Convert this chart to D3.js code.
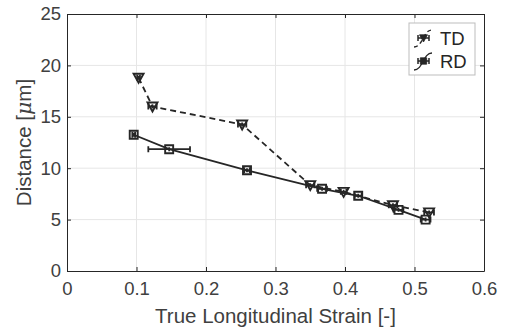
<!DOCTYPE html>
<html>
<head>
<meta charset="utf-8">
<script src="https://cdn.jsdelivr.net/npm/d3@7"></script>
<style>
  body { margin: 0; background: #fff; }
  text { font-family: "Liberation Sans", Arial, sans-serif; }
</style>
</head>
<body>
<div id="chart"></div>
<script>
// dữ liệu
const tdStrain = [0.103, 0.123, 0.252, 0.350, 0.398, 0.469, 0.521];
const tdDist   = [18.8, 16.0, 14.25, 8.35, 7.7, 6.4, 5.7];
const tdErr    = [0.002, 0.006, 0.006, 0.006, 0.004, 0.006, 0.007];

const rdStrain = [0.096, 0.147, 0.259, 0.367, 0.419, 0.477, 0.516];
const rdDist   = [13.25, 11.85, 9.8, 8.0, 7.32, 5.95, 5.0];
const rdErr    = [0.002, 0.030, 0.004, 0.007, 0.005, 0.007, 0.007];

const xTicks = [0, 0.1, 0.2, 0.3, 0.4, 0.5, 0.6];
const yTicks = [0, 5, 10, 15, 20, 25];

const margin = { top: 14, right: 22, bottom: 60, left: 67 },
    width = 506 - margin.left - margin.right,
    height = 331 - margin.top - margin.bottom;

const ink = "#262626";

const svg = d3.select("#chart")
    .append("svg")
    .attr("width", 506)
    .attr("height", 331)
    .append("g")
    .attr("transform", `translate(${margin.left},${margin.top})`);

const x = d3.scaleLinear().domain([0, 0.6]).range([0, width]);
const y = d3.scaleLinear().domain([0, 25]).range([height, 0]);

// lưới
svg.append("g").selectAll("line")
    .data(xTicks.slice(1, -1))
    .enter().append("line")
    .attr("x1", d => x(d)).attr("x2", d => x(d))
    .attr("y1", 0).attr("y2", height)
    .attr("stroke", "#e6e6e6");
svg.append("g").selectAll("line")
    .data(yTicks.slice(1, -1))
    .enter().append("line")
    .attr("y1", d => y(d)).attr("y2", d => y(d))
    .attr("x1", 0).attr("x2", width)
    .attr("stroke", "#e6e6e6");

// trục
svg.append("g")
    .attr("transform", `translate(0,${height})`)
    .call(d3.axisBottom(x).tickValues(xTicks).tickSizeInner(-4).tickSizeOuter(0).tickPadding(11)
        .tickFormat(d => d === 0 ? "0" : d3.format(".1f")(d)));
svg.append("g")
    .call(d3.axisLeft(y).tickValues(yTicks).tickSizeInner(-4).tickSizeOuter(0).tickPadding(6));
svg.append("g")
    .call(d3.axisTop(x).tickValues(xTicks).tickSizeInner(-4).tickSizeOuter(0).tickFormat(""));
svg.append("g")
    .attr("transform", `translate(${width},0)`)
    .call(d3.axisRight(y).tickValues(yTicks).tickSizeInner(-4).tickSizeOuter(0).tickFormat(""));

svg.selectAll(".domain, .tick line").attr("stroke", ink);
svg.selectAll(".tick text")
    .style("font-size", "18.5px")
    .attr("fill", "#404040");

// nhãn trục
svg.append("text")
    .attr("x", width / 2)
    .attr("y", height + 52)
    .attr("text-anchor", "middle")
    .style("font-size", "20.5px")
    .attr("fill", "#404040")
    .text("True Longitudinal Strain [-]");

const yl = svg.append("text")
    .attr("transform", `translate(${-36},${height / 2}) rotate(-90)`)
    .attr("text-anchor", "middle")
    .style("font-size", "20.5px")
    .attr("fill", "#404040");
yl.append("tspan").text("Distance [");
yl.append("tspan").style("font-style", "italic").style("font-family", "'DejaVu Serif', serif").text("μ");
yl.append("tspan").text("m]");

// vẽ một chuỗi số liệu
function drawSeries(xs, ys, errs, dash, shape) {
    const pts = xs.map((v, i) => ({ x: v, y: ys[i], e: errs[i] }));
    const line = d3.line().x(d => x(d.x)).y(d => y(d.y));
    svg.append("path")
        .datum(pts)
        .attr("d", line)
        .attr("fill", "none")
        .attr("stroke", ink)
        .attr("stroke-width", 1.8)
        .attr("stroke-dasharray", dash);

    const g = svg.append("g").selectAll("g")
        .data(pts).enter().append("g")
        .attr("transform", d => `translate(${x(d.x)},${y(d.y)})`);

    // thanh sai số ngang + dọc nhỏ
    g.append("path")
        .attr("d", d => {
            const w = x(d.e) - x(0), c = 3;
            return `M${-w},0H${w}M${-w},${-c}V${c}M${w},${-c}V${c}M0,-2V2`;
        })
        .attr("fill", "none")
        .attr("stroke", ink)
        .attr("stroke-width", 1.8);

    g.append("path")
        .attr("d", shape)
        .attr("fill", "none")
        .attr("stroke", ink)
        .attr("stroke-width", 1.9);
}

const triShape = "M-5,-4L5,-4L0,5Z";
const sqShape = "M-4,-4H4V4H-4Z";

drawSeries(tdStrain, tdDist, tdErr, "6,4", triShape);
drawSeries(rdStrain, rdDist, rdErr, null, sqShape);

// chú giải
const legend = svg.append("g")
    .attr("transform", `translate(${width - 75},9)`);
legend.append("rect")
    .attr("width", 66)
    .attr("height", 52)
    .attr("fill", "#fff")
    .attr("stroke", "#bdbdbd");

const legItems = [
    { name: "TD", dash: "4,3", shape: triShape, y: 15 },
    { name: "RD", dash: null, shape: sqShape, y: 38 }
];
legItems.forEach(it => {
    const g = legend.append("g").attr("transform", `translate(0,${it.y})`);
    g.append("path")
        .attr("d", "M5,9C14,9 14,-8 23,-8")
        .attr("fill", "none")
        .attr("stroke", ink)
        .attr("stroke-width", 1.3)
        .attr("stroke-dasharray", it.dash);
    g.append("path")
        .attr("d", "M9,0H20M9,-3V3M20,-3V3")
        .attr("fill", "none")
        .attr("stroke", ink)
        .attr("stroke-width", 1.5);
    g.append("path")
        .attr("transform", "translate(14.5,0) scale(0.8)")
        .attr("d", it.shape)
        .attr("fill", ink)
        .attr("stroke", ink);
    g.append("text")
        .attr("x", 31)
        .attr("y", 7)
        .style("font-size", "18.5px")
        .attr("fill", ink)
        .text(it.name);
});
</script>
</body>
</html>
